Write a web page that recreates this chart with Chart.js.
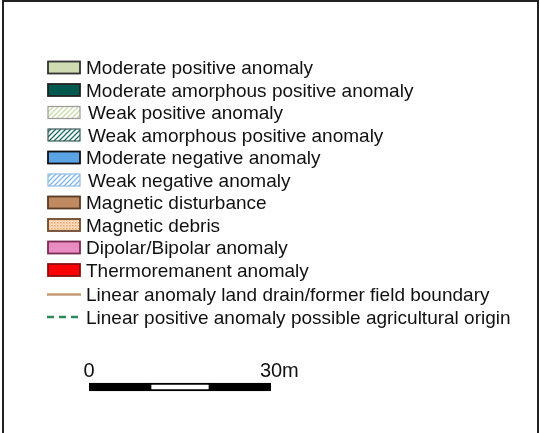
<!DOCTYPE html>
<html>
<head>
<meta charset="utf-8">
<script src="https://cdn.jsdelivr.net/npm/chart.js@4/dist/chart.umd.min.js"></script>
<style>
  html, body { margin: 0; padding: 0; background: #fff; }
  canvas { display: block; }
</style>
</head>
<body>
<canvas id="legendChart" width="540" height="433"></canvas>
<script>
// legend entries
const legendLabels = [
    'Moderate positive anomaly',
    'Moderate amorphous positive anomaly',
    'Weak positive anomaly',
    'Weak amorphous positive anomaly',
    'Moderate negative anomaly',
    'Weak negative anomaly',
    'Magnetic disturbance',
    'Magnetic debris',
    'Dipolar/Bipolar anomaly',
    'Thermoremanent anomaly',
    'Linear anomaly land drain/former field boundary',
    'Linear positive anomaly possible agricultural origin'
];
const legendKinds = ['fill', 'fill', 'hatch', 'hatch', 'fill', 'hatch', 'fill', 'dots', 'fill', 'fill', 'line', 'dash'];
const legendColors = ['#cddcb2', '#00594e', '#c9dcaa', '#1c6d66', '#5aa3e4', '#7cb6ea', '#bf8a62', '#f0a060', '#ea8cc2', '#ff0000', '#c49a74', '#2e8a5a'];
const legendBorders = ['#333333', '#222222', '#9a9a9a', '#3a5a58', '#111111', '#8fbbe6', '#5a3a22', '#6b4a30', '#7a2c52', '#8a1010', null, null];

// scale bar (metres)
const scaleSegments = [[0, 10], [10, 20], [20, 30]];
const scaleColors = ['#000000', '#ffffff', '#000000'];
const scaleTicks = [0, 30];
const scaleUnit = 'm';

function makePattern(kind, color) {
    const c = document.createElement('canvas');
    const p = c.getContext('2d');
    if (kind === 'hatch') {
        c.width = 5; c.height = 5;
        p.fillStyle = '#ffffff';
        p.fillRect(0, 0, 5, 5);
        p.strokeStyle = color;
        p.lineWidth = 1.3;
        p.beginPath();
        p.moveTo(-1, 6); p.lineTo(6, -1);
        p.moveTo(-4, 4); p.lineTo(4, -4);
        p.moveTo(1, 9); p.lineTo(9, 1);
        p.stroke();
    } else {
        c.width = 3; c.height = 3;
        p.fillStyle = '#fbe3cc';
        p.fillRect(0, 0, 3, 3);
        p.fillStyle = color;
        p.fillRect(0, 0, 1.5, 1.5);
        p.fillRect(1.5, 1.5, 1, 1);
    }
    return p.createPattern(c, 'repeat');
}

const legendPlugin = {
    id: 'mapLegend',
    beforeDraw(chart) {
        const ctx = chart.ctx;
        ctx.save();
        ctx.fillStyle = '#ffffff';
        ctx.fillRect(0, 0, chart.width, chart.height);
        ctx.strokeStyle = '#222222';
        ctx.lineWidth = 2;
        ctx.strokeRect(3, 1, 535, 440);
        ctx.restore();
    },
    afterDraw(chart) {
        const ctx = chart.ctx;
        ctx.save();
        ctx.font = '19px "Liberation Sans", Arial, sans-serif';
        ctx.textBaseline = 'middle';
        ctx.fillStyle = '#111111';
        legendLabels.forEach(function (label, i) {
            const y = 67.5 + i * 22.5;
            const kind = legendKinds[i];
            if (kind === 'line' || kind === 'dash') {
                const ly = y + 2;
                ctx.strokeStyle = legendColors[i];
                ctx.lineWidth = 2.5;
                ctx.setLineDash(kind === 'dash' ? [7, 5] : []);
                ctx.beginPath();
                ctx.moveTo(47, ly);
                ctx.lineTo(81, ly);
                ctx.stroke();
                ctx.setLineDash([]);
                ctx.fillText(label, 86, ly + 1.5);
            } else {
                ctx.fillStyle = kind === 'fill' ? legendColors[i] : makePattern(kind, legendColors[i]);
                ctx.fillRect(48, y - 6, 32, 12);
                ctx.strokeStyle = legendBorders[i];
                ctx.lineWidth = kind === 'hatch' ? 1.2 : 1.8;
                ctx.strokeRect(48, y - 6, 32, 12);
                ctx.fillStyle = '#111111';
                ctx.fillText(label, kind === 'hatch' ? 88 : 86, y + 1.5);
            }
        });

        // scale labels
        const xScale = chart.scales.x;
        ctx.font = '20px "Liberation Sans", Arial, sans-serif';
        ctx.textBaseline = 'alphabetic';
        ctx.textAlign = 'left';
        scaleTicks.forEach(function (v, i) {
            const px = xScale.getPixelForValue(v);
            const num = String(v);
            const w = ctx.measureText(num).width;
            const txt = i === scaleTicks.length - 1 ? num + scaleUnit : num;
            ctx.fillText(txt, px - w / 2, 377);
        });
        ctx.restore();
    }
};

new Chart(document.getElementById('legendChart').getContext('2d'), {
    type: 'bar',
    data: {
        labels: ['scale'],
        datasets: scaleSegments.map(function (seg, i) {
            return {
                data: [seg],
                backgroundColor: scaleColors[i],
                borderColor: '#000000',
                borderWidth: 2,
                borderSkipped: false,
                barThickness: 8,
                grouped: false
            };
        })
    },
    options: {
        indexAxis: 'y',
        responsive: false,
        animation: false,
        layout: { padding: { left: 89, right: 269, top: 379, bottom: 38 } },
        plugins: { legend: { display: false }, tooltip: { enabled: false } },
        scales: {
            x: { type: 'linear', min: 0, max: 30, display: false },
            y: { display: false }
        }
    },
    plugins: [legendPlugin]
});
</script>
</body>
</html>
